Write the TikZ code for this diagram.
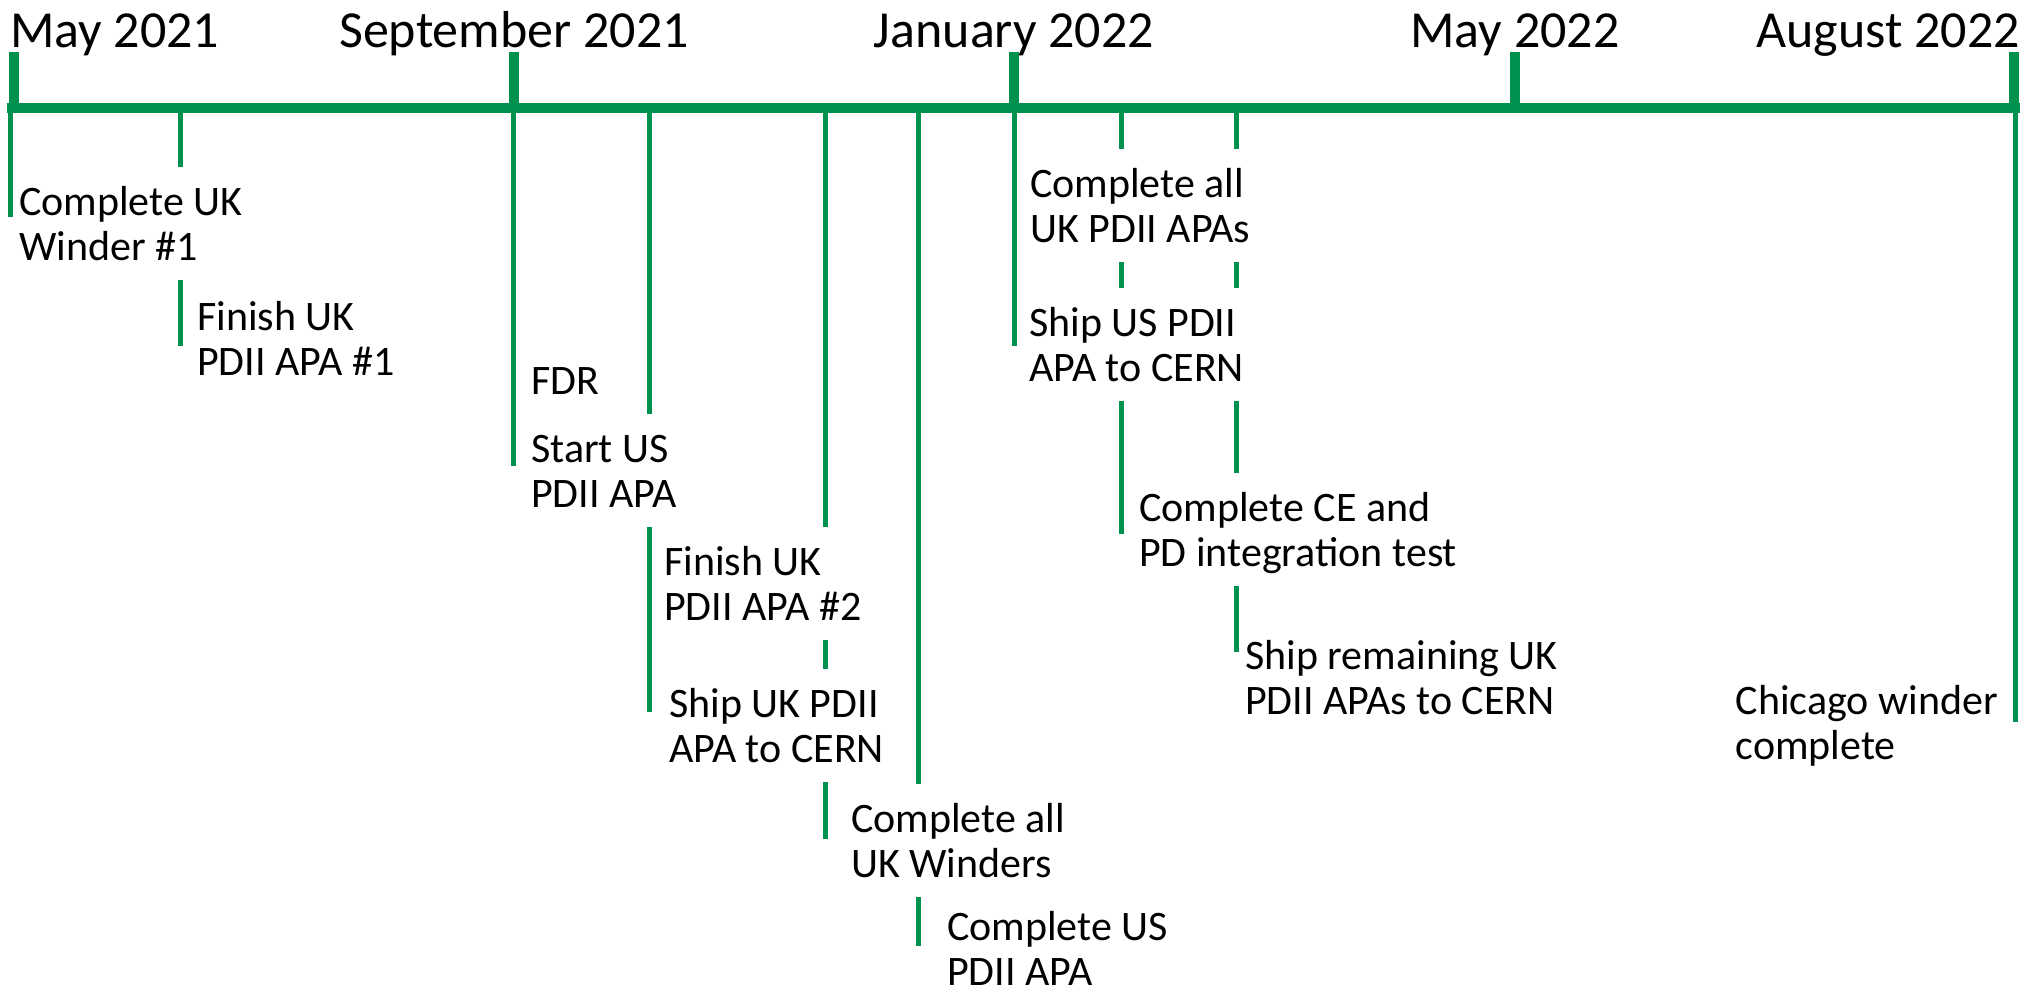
\documentclass[tikz,border=0pt]{standalone}
\usepackage{fontspec}
\setmainfont{Carlito}
\definecolor{tlgreen}{RGB}{0,145,79}
\newcommand{\twoline}[1]{\begin{tabular}[t]{@{}l@{}}#1\end{tabular}}
\begin{document}
\begin{tikzpicture}[x=1pt,y=-1pt,
  evline/.style={draw=tlgreen,line width=5pt},
  axisline/.style={draw=tlgreen,line width=10pt},
  majortick/.style={draw=tlgreen,line width=10pt},
  datelab/.style={font=\fontsize{52}{60}\selectfont,inner sep=0pt,text=black},
  evlab/.style={font=\fontsize{42}{45}\selectfont,fill=white,inner xsep=5pt,inner ysep=20pt,
                text height=28pt,text depth=45pt,anchor=base west,text=black},
  ]
\useasboundingbox (0,0) rectangle (2036,997);
\fill[white] (0,0) rectangle (2036,997);

% axis anchor coordinates
\coordinate (axL) at (7,108);
\coordinate (axR) at (2020,108);

% event lines (drawn first, label boxes cover parts of them)
\coordinate (e1) at (10.5,108);
\coordinate (e2) at (180.5,108);
\coordinate (e3) at (513.5,108);
\coordinate (e4) at (649.5,108);
\coordinate (e5) at (825.5,108);
\coordinate (e6) at (918.5,108);
\coordinate (e7) at (1014.5,108);
\coordinate (e8) at (1121.5,108);
\coordinate (e9) at (1236.5,108);
\coordinate (e10) at (2015.5,108);

\draw[evline] (e1) -- (e1 |- 0,217);
\draw[evline] (e2) -- (e2 |- 0,346);
\draw[evline] (e3) -- (e3 |- 0,466);
\draw[evline] (e4) -- (e4 |- 0,712);
\draw[evline] (e5) -- (e5 |- 0,839);
\draw[evline] (e6) -- (e6 |- 0,946);
\draw[evline] (e7) -- (e7 |- 0,346);
\draw[evline] (e8) -- (e8 |- 0,534);
\draw[evline] (e9) -- (e9 |- 0,652);
\draw[evline] (e10) -- (e10 |- 0,722);

% event labels
\node[evlab] (la) at (14,215)   {\twoline{Complete UK\\Winder \#1}};
\node[evlab] (lb) at (192,330)  {\twoline{Finish UK\\PDII APA \#1}};
\node[evlab,text depth=0pt] (lc) at (526,394) {FDR};
\node[evlab] (ld) at (526,462)  {\twoline{Start US\\PDII APA}};
\node[evlab] (le) at (659,575)  {\twoline{Finish UK\\PDII APA \#2}};
\node[evlab] (lf) at (664,717)  {\twoline{Ship UK PDII\\APA to CERN}};
\node[evlab] (lg) at (846,832)  {\twoline{Complete all\\UK Winders}};
\node[evlab,inner ysep=2pt,text depth=44pt] (lh) at (942,940)  {\twoline{Complete US\\PDII APA}};
\node[evlab] (li) at (1025,197) {\twoline{Complete all\\UK PDII APAs}};
\node[evlab] (lj) at (1024,336) {\twoline{Ship US PDII\\APA to CERN}};
\node[evlab] (lk) at (1134,521) {\twoline{Complete CE and\\PD integration test}};
\node[evlab] (ll) at (1240,669) {\twoline{Ship remaining UK\\PDII APAs to CERN}};
\node[evlab,anchor=base east] (lm) at (2003,714) {\twoline{Chicago winder\\complete}};

% axis and major ticks
\draw[axisline] (axL) -- (axR);
\coordinate (m1) at (14,108);
\coordinate (m2) at (514,108);
\coordinate (m3) at (1014,108);
\coordinate (m4) at (1515,108);
\coordinate (m5) at (2014,108);
\foreach \m in {m1,m2,m3,m4,m5}{
  \draw[majortick] (\m) -- (\m |- 0,52);
}

% date labels
\node[datelab,anchor=base west] (d1) at (10,47) {May 2021};
\node[datelab,anchor=base] (d2) at (514,47) {September 2021};
\node[datelab,anchor=base] (d3) at (1014,47) {January 2022};
\node[datelab,anchor=base] (d4) at (1515,47) {May 2022};
\node[datelab,anchor=base east] (d5) at (2020,47) {August 2022};
\end{tikzpicture}
\end{document}
